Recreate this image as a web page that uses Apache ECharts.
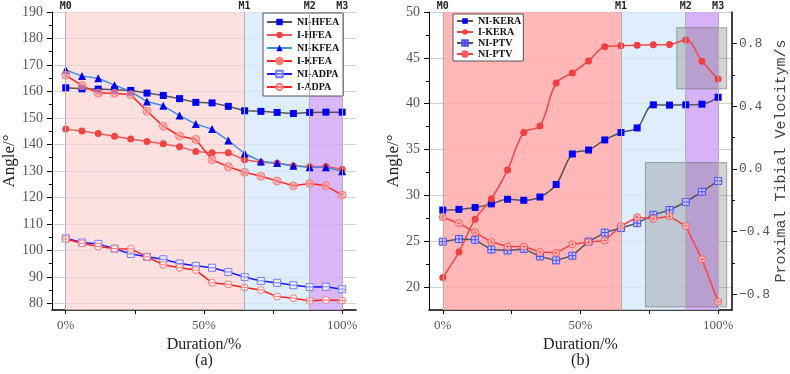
<!DOCTYPE html>
<html>
<head>
<meta charset="utf-8">
<script src="https://cdn.jsdelivr.net/npm/echarts@6.0.0/dist/echarts.min.js"></script>
<style>
  html, body { margin: 0; padding: 0; background: #fff; }
  #chart { width: 790px; height: 374px; }
</style>
</head>
<body>
<div id="chart"></div>
<script>
// gait duration (% of phase), 18 samples
const durations = [0, 5.88, 11.76, 17.65, 23.53, 29.41, 35.29, 41.18, 47.06, 52.94, 58.82, 64.71, 70.59, 76.47, 82.35, 88.24, 94.12, 100]
const phaseBounds = [0, 64.71, 88.24, 100]
const phaseNames = ['M0', 'M1', 'M2', 'M3']

// (a) joint angles
const niHFEA = [161.4, 161.0, 160.9, 160.7, 160.4, 159.4, 158.5, 157.3, 155.9, 155.7, 154.4, 152.7, 152.5, 152.1, 151.7, 152.1, 152.2, 152.2]
const iHFEA = [145.8, 145.1, 144.1, 143.1, 142.1, 141.1, 140.3, 139.1, 137.4, 136.9, 136.9, 134.2, 133.3, 132.9, 131.9, 131.6, 131.7, 130.7]
const niKFEA = [168.1, 165.8, 165.0, 162.4, 160.0, 156.2, 154.6, 150.9, 147.7, 145.8, 141.5, 136.6, 133.6, 133.0, 132.0, 131.4, 131.4, 129.9]
const iKFEA = [166.2, 162.2, 159.4, 159.3, 158.8, 152.6, 146.9, 143.2, 141.9, 134.2, 131.6, 129.5, 128.0, 126.2, 124.4, 125.3, 124.4, 120.9]
const niADPA = [104.6, 103.0, 102.5, 100.7, 98.7, 97.6, 96.7, 95.1, 94.2, 93.5, 91.9, 90.0, 88.5, 87.8, 86.9, 86.2, 86.3, 85.4]
const iADPA = [104.3, 102.7, 101.5, 100.7, 100.6, 97.6, 94.6, 93.5, 92.6, 87.8, 87.2, 86.0, 85.1, 82.6, 82.0, 81.0, 81.3, 81.1]

// (b) knee external rotation angle + proximal tibial velocity
const niKERA = [28.41, 28.48, 28.69, 29.08, 29.58, 29.47, 29.83, 31.2, 34.52, 34.95, 36.05, 36.86, 37.36, 39.88, 39.85, 39.88, 39.95, 40.70]
const iKERA = [21.06, 23.83, 27.41, 29.62, 32.78, 36.86, 37.58, 42.26, 43.36, 44.67, 46.2, 46.31, 46.38, 46.42, 46.45, 46.95, 44.64, 42.69]
const niPTV = [-0.464, -0.447, -0.452, -0.514, -0.520, -0.510, -0.558, -0.583, -0.553, -0.463, -0.406, -0.377, -0.346, -0.293, -0.262, -0.211, -0.146, -0.077]
const iPTV = [-0.308, -0.346, -0.404, -0.466, -0.495, -0.495, -0.530, -0.535, -0.480, -0.468, -0.456, -0.364, -0.308, -0.318, -0.302, -0.364, -0.576, -0.846]

// gray highlight boxes on (b): [xFrom, xTo, velocityTop, velocityBottom]
const boxUpper = [85, 103.1, 0.90, 0.51]
const boxLower = [73.6, 103.1, 0.04, -0.88]

const angleTicksA = [80, 90, 100, 110, 120, 130, 140, 150, 160, 170, 180, 190]
const angleMinorA = [85, 95, 105, 115, 125, 135, 145, 155, 165, 175, 185]
const angleTicksB = [20, 25, 30, 35, 40, 45, 50]
const angleMinorB = [22.5, 27.5, 32.5, 37.5, 42.5, 47.5]
const velTicks = [-0.8, -0.4, 0, 0.4, 0.8]
const velMinor = [-0.6, -0.2, 0.2, 0.6]
const durTicks = [0, 25, 50, 75, 100]
const durLabels = [0, 50, 100]

const SERIF = "'Liberation Serif', 'Times New Roman', serif"
const MONO = "'Liberation Mono', 'DejaVu Sans Mono', monospace"

const SYM_CIRCLE_X = 'path://M10,0A10,10,0,1,1,10,20A10,10,0,1,1,10,0Z M3,3L17,17 M17,3L3,17'
const SYM_SQUARE_LINE = 'path://M0,0H20V20H0Z M0,10H20'
const SYM_CIRCLE_LINE = 'path://M10,0A10,10,0,1,1,10,20A10,10,0,1,1,10,0Z M0,10H20'
const SYM_SQUARE_PLUS = 'path://M0,0H20V20H0Z M10,0V20 M0,10H20'
const SYM_CIRCLE_PLUS = 'path://M10,0A10,10,0,1,1,10,20A10,10,0,1,1,10,0Z M10,4V16 M4,10H16'

function pairs(vals) {
  return durations.map((d, i) => [d, vals[i]])
}

function phaseLayer(colors, xIdx, yIdx) {
  return {
    type: 'line',
    name: '_phase' + xIdx,
    xAxisIndex: xIdx,
    yAxisIndex: yIdx,
    data: [],
    z: 0,
    silent: true,
    markArea: {
      silent: true,
      data: colors.map((c, i) => [
        { xAxis: phaseBounds[i], itemStyle: { color: c } },
        { xAxis: phaseBounds[i + 1] }
      ])
    },
    markLine: {
      silent: true,
      symbol: ['none', 'none'],
      lineStyle: { color: '#b0b0b0', type: 'solid', width: 1 },
      label: {
        position: 'end',
        distance: 1,
        fontFamily: 'DejaVu Sans Mono',
        fontWeight: 'bold',
        fontSize: 10,
        color: '#222'
      },
      data: phaseBounds.map((b, i) => ({ xAxis: b, label: { formatter: phaseNames[i] } }))
    }
  }
}

function lineSeries(name, vals, xIdx, yIdx, opt) {
  return Object.assign({
    type: 'line',
    name: name,
    xAxisIndex: xIdx,
    yAxisIndex: yIdx,
    data: pairs(vals),
    z: 3,
    symbolSize: 7
  }, opt)
}

function valueY(gridIndex, min, max, ticks, opt) {
  return Object.assign({
    type: 'value',
    gridIndex: gridIndex,
    min: min,
    max: max,
    axisLine: { show: true, onZero: false, lineStyle: { color: '#000', width: 1 } },
    axisTick: { show: true, customValues: ticks, length: 5, lineStyle: { color: '#000' } },
    axisLabel: { customValues: ticks, margin: 9, fontFamily: SERIF, fontSize: 14, color: '#555' },
    splitLine: { show: true, lineStyle: { color: '#d0d0d0', width: 1 } }
  }, opt)
}

function minorY(gridIndex, min, max, ticks, position) {
  return {
    type: 'value',
    gridIndex: gridIndex,
    position: position,
    min: min,
    max: max,
    axisLine: { show: false, onZero: false },
    axisTick: { show: true, customValues: ticks, length: 3, lineStyle: { color: '#000' } },
    axisLabel: { show: false },
    splitLine: { show: false }
  }
}

function durationX(gridIndex, tag) {
  return {
    type: 'value',
    gridIndex: gridIndex,
    min: -5,
    max: 105,
    name: 'Duration/%\n' + tag,
    nameLocation: 'middle',
    nameGap: 24,
    nameTextStyle: { fontFamily: SERIF, fontSize: 16, color: '#222', lineHeight: 16 },
    axisLine: { onZero: false, lineStyle: { color: '#000', width: 1.5 } },
    axisTick: { customValues: durTicks, length: 4, lineStyle: { color: '#000' } },
    axisLabel: {
      customValues: durLabels,
      margin: 9,
      fontFamily: SERIF,
      fontSize: 13,
      color: '#555',
      formatter: v => v + '%'
    },
    splitLine: { show: false }
  }
}

const legendText = { fontFamily: SERIF, fontWeight: 'bold', fontSize: 10, color: '#111' }

const chart = echarts.init(document.getElementById('chart'))

chart.setOption({
  animation: false,
  backgroundColor: '#fff',
  textStyle: { fontFamily: SERIF },
  grid: [
    { left: 48, right: 434, top: 12, bottom: 57 },
    { left: 429, right: 53, top: 12, bottom: 57 }
  ],
  legend: [
    {
      data: ['NI-HFEA', 'I-HFEA', 'NI-KFEA', 'I-KFEA', 'NI-ADPA', 'I-ADPA'],
      orient: 'vertical',
      left: 263,
      top: 13,
      itemWidth: 25,
      itemHeight: 8,
      itemGap: 3,
      padding: [4, 4, 4, 3],
      backgroundColor: '#fff',
      borderColor: '#555',
      borderWidth: 1,
      borderRadius: 0,
      textStyle: legendText
    },
    {
      data: ['NI-KERA', 'I-KERA', 'NI-PTV', 'NI-PTV '],
      formatter: n => n.trim(),
      orient: 'vertical',
      left: 453,
      top: 14,
      itemWidth: 16,
      itemHeight: 7,
      itemGap: 1,
      padding: [2, 2, 2, 3],
      backgroundColor: '#fff',
      borderColor: '#555',
      borderWidth: 1,
      borderRadius: 0,
      textStyle: legendText
    }
  ],
  xAxis: [durationX(0, '(a)'), durationX(1, '(b)')],
  yAxis: [
    valueY(0, 77.5, 190, angleTicksA, {
      name: 'Angle/°',
      nameLocation: 'middle',
      nameGap: 27,
      nameTextStyle: { fontFamily: SERIF, fontSize: 17, color: '#222' }
    }),
    minorY(0, 77.5, 190, angleMinorA, 'left'),
    valueY(1, 17.5, 50, angleTicksB, {
      position: 'left',
      name: 'Angle/°',
      nameLocation: 'middle',
      nameGap: 23,
      nameTextStyle: { fontFamily: SERIF, fontSize: 17, color: '#222' }
    }),
    minorY(1, 17.5, 50, angleMinorB, 'left'),
    {
      type: 'value',
      gridIndex: 1,
      position: 'right',
      min: -0.9,
      max: 1.0,
      name: 'Proximal Tibial Velocitym/s',
      nameLocation: 'middle',
      nameGap: 34,
      nameTextStyle: { fontFamily: MONO, fontSize: 15, color: '#444' },
      axisLine: { show: true, onZero: false, lineStyle: { color: '#000', width: 1.5 } },
      axisTick: { show: true, customValues: velTicks, length: 5, lineStyle: { color: '#000' } },
      axisLabel: {
        customValues: velTicks,
        margin: 7,
        fontFamily: MONO,
        fontSize: 13,
        color: '#555',
        formatter: v => (v < 0 ? '\u2212' : '') + Math.abs(v).toFixed(1)
      },
      splitLine: { show: false }
    },
    minorY(1, -0.9, 1.0, velMinor, 'right')
  ],
  series: [
    phaseLayer(['rgba(252,212,212,0.7)', 'rgba(214,234,252,0.8)', 'rgba(212,170,248,0.85)'], 0, 0),
    phaseLayer(['rgba(255,170,170,0.85)', 'rgba(214,234,252,0.8)', 'rgba(212,170,248,0.9)'], 1, 2),
    {
      type: 'line',
      name: '_boxes',
      xAxisIndex: 1,
      yAxisIndex: 4,
      data: [],
      z: 1,
      silent: true,
      markArea: {
        silent: true,
        itemStyle: { color: 'rgba(120,120,120,0.32)', borderColor: 'rgba(110,110,110,0.6)', borderWidth: 1 },
        data: [boxUpper, boxLower].map(b => [
          { xAxis: b[0], yAxis: b[2] },
          { xAxis: b[1], yAxis: b[3] }
        ])
      }
    },

    // (a)
    lineSeries('NI-HFEA', niHFEA, 0, 0, {
      symbol: 'rect', symbolSize: 7,
      itemStyle: { color: '#0000ff' },
      lineStyle: { color: '#555', width: 1.5 }
    }),
    lineSeries('I-HFEA', iHFEA, 0, 0, {
      symbol: 'circle', symbolSize: 7,
      itemStyle: { color: '#f04545' },
      lineStyle: { color: '#f05858', width: 1.5 }
    }),
    lineSeries('NI-KFEA', niKFEA, 0, 0, {
      symbol: 'triangle', symbolSize: 8,
      itemStyle: { color: '#0000e6' },
      lineStyle: { color: '#3d8de6', width: 1.5 }
    }),
    lineSeries('I-KFEA', iKFEA, 0, 0, {
      symbol: SYM_CIRCLE_X, symbolSize: 8,
      itemStyle: { color: 'rgba(255,170,170,0.6)', borderColor: '#ff7a7a', borderWidth: 1 },
      lineStyle: { color: '#ff2626', width: 1.5 }
    }),
    lineSeries('NI-ADPA', niADPA, 0, 0, {
      symbol: SYM_SQUARE_LINE, symbolSize: 7,
      itemStyle: { color: '#eeeeff', borderColor: '#7a7aff', borderWidth: 1 },
      lineStyle: { color: '#1a1aff', width: 1.5 }
    }),
    lineSeries('I-ADPA', iADPA, 0, 0, {
      symbol: SYM_CIRCLE_LINE, symbolSize: 7,
      itemStyle: { color: '#fff0f0', borderColor: '#ff7a7a', borderWidth: 1 },
      lineStyle: { color: '#ff2020', width: 1.5 }
    }),

    // (b)
    lineSeries('NI-KERA', niKERA, 1, 2, {
      symbol: 'rect', symbolSize: 7, smooth: 0.35,
      itemStyle: { color: '#0000ff' },
      lineStyle: { color: '#555', width: 1.5 }
    }),
    lineSeries('I-KERA', iKERA, 1, 2, {
      symbol: 'circle', symbolSize: 7, smooth: 0.35,
      itemStyle: { color: '#f04040' },
      lineStyle: { color: '#f04848', width: 1.5 }
    }),
    lineSeries('NI-PTV', niPTV, 1, 4, {
      symbol: SYM_SQUARE_PLUS, symbolSize: 7,
      itemStyle: { color: '#c8c8ff', borderColor: '#4b4bff', borderWidth: 1 },
      lineStyle: { color: '#555', width: 1.5 }
    }),
    lineSeries('NI-PTV ', iPTV, 1, 4, {
      symbol: SYM_CIRCLE_PLUS, symbolSize: 7,
      itemStyle: { color: '#ffc8c8', borderColor: '#ff5a5a', borderWidth: 1 },
      lineStyle: { color: '#ff4040', width: 1.5 }
    })
  ]
})
</script>
</body>
</html>
